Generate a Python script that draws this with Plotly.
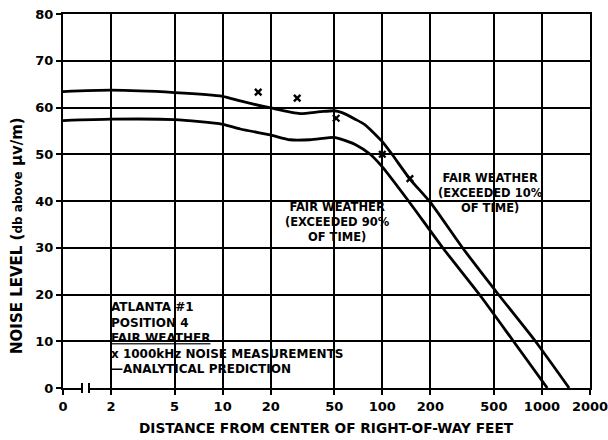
import math
import plotly.graph_objects as go

# ---------------- data ----------------
x_tick_vals = [1, 2, 5, 10, 20, 50, 100, 200, 500, 1000, 2000]
x_tick_text = ["0", "2", "5", "10", "20", "50", "100", "200", "500", "1000", "2000"]
y_tick_vals = [0, 10, 20, 30, 40, 50, 60, 70, 80]

# Fair weather, exceeded 10% of time (upper prediction)
dist_upper = [1, 2, 5, 10, 12.9, 20, 30.5, 40.8, 50, 56, 67.6, 78, 100, 115, 149, 200, 318, 534, 910, 1480]
noise_upper = [63.4, 63.7, 63.2, 62.4, 61.4, 59.9, 58.7, 59.1, 59.3, 58.9, 57.5, 56.3, 52.7, 50.0, 44.7, 39.7, 30.0, 20.0, 10.0, 0.0]

# Fair weather, exceeded 90% of time (lower prediction)
dist_lower = [1, 2, 5, 10, 12.9, 20, 26.4, 35.3, 50, 54.4, 67.6, 84, 100, 146, 239, 406, 663, 1080]
noise_lower = [57.2, 57.5, 57.4, 56.4, 55.4, 54.1, 53.1, 53.1, 53.6, 53.3, 52.1, 50.0, 47.3, 40.0, 30.0, 20.0, 10.0, 0.0]

# 1000 kHz noise measurements
dist_meas = [16.7, 29.3, 51.4, 100, 149]
noise_meas = [63.3, 62.0, 57.7, 50.0, 44.8]

# ---------------- layout helpers ----------------
W, H = 608, 440
PL, PR, PT, PB = 63, 590, 14, 388   # plot area in window pixels


def pxx(xp):
    return (xp - PL) / (PR - PL)


def pxy(yp):
    return (PB - yp) / (PB - PT)


TICKFONT = dict(family="DejaVu Sans", size=13, color="black", weight="bold")
LBLFONT = dict(family="DejaVu Sans", size=11.5, color="black", weight="bold")
LEGFONT = dict(family="DejaVu Sans", size=12, color="black", weight="bold")

fig = go.Figure()

fig.add_trace(go.Scatter(
    x=dist_upper, y=noise_upper, mode="lines",
    line=dict(color="black", width=2.8, shape="spline", smoothing=0.6),
    showlegend=False, hoverinfo="skip"))
fig.add_trace(go.Scatter(
    x=dist_lower, y=noise_lower, mode="lines",
    line=dict(color="black", width=2.8, shape="spline", smoothing=0.6),
    showlegend=False, hoverinfo="skip"))
fig.add_trace(go.Scatter(
    x=dist_meas, y=noise_meas, mode="markers",
    marker=dict(symbol="x-thin", size=6.5, line=dict(color="black", width=2.4), color="black"),
    showlegend=False))

annotations = []


def add_block(text, xp, yp, font, xanchor="center", align="center"):
    annotations.append(dict(
        text=text, xref="paper", yref="paper", x=pxx(xp), y=pxy(yp),
        xanchor=xanchor, yanchor="middle", align=align, showarrow=False, font=font))


add_block("FAIR WEATHER<br>(EXCEEDED 10%<br>OF TIME)", 490, 193, LBLFONT)
add_block("FAIR WEATHER<br>(EXCEEDED 90%<br>OF TIME)", 337, 222, LBLFONT)
add_block("ATLANTA #1<br>POSITION 4<br><u>FAIR WEATHER</u><br>"
          "x 1000kHz NOISE MEASUREMENTS<br>\u2014ANALYTICAL PREDICTION",
          109, 338, LEGFONT, xanchor="left", align="left")

# axis titles
annotations.append(dict(
    text="NOISE LEVEL (<span style='font-size:12px'>db above</span> \u03bcv/m)",
    xref="paper", yref="paper", x=pxx(17), y=pxy(236), textangle=-90,
    xanchor="center", yanchor="middle", showarrow=False,
    font=dict(family="DejaVu Sans", size=15, color="black", weight="bold")))
annotations.append(dict(
    text="DISTANCE FROM CENTER OF RIGHT-OF-WAY FEET",
    xref="paper", yref="paper", x=pxx(326), y=pxy(428),
    xanchor="center", yanchor="middle", showarrow=False,
    font=dict(family="DejaVu Sans", size=13.7, color="black", weight="bold")))


def mask(x0, x1, y0, y1):
    # white paper showing through the grid behind the hand-lettered labels
    return dict(type="rect", xref="paper", yref="paper",
                x0=pxx(x0), x1=pxx(x1), y0=pxy(y1), y1=pxy(y0),
                fillcolor="white", line=dict(width=0), layer="between")


shapes = [
    mask(434, 548, 166, 215),   # 10% label
    mask(278, 397, 199, 245),   # 90% label
    mask(105, 216, 298, 374),   # legend block (narrow lines)
    mask(105, 357, 342, 374),   # legend block (wide lines)
    # axis break marks near the origin
    dict(type="rect", xref="paper", yref="paper", x0=pxx(82.5), x1=pxx(88.5),
         y0=pxy(392), y1=pxy(384), fillcolor="white", line=dict(width=0), layer="above"),
    dict(type="line", xref="paper", yref="paper", x0=pxx(82), x1=pxx(82),
         y0=pxy(393), y1=pxy(383), line=dict(color="black", width=2), layer="above"),
    dict(type="line", xref="paper", yref="paper", x0=pxx(89), x1=pxx(89),
         y0=pxy(393), y1=pxy(383), line=dict(color="black", width=2), layer="above"),
]

axis_common = dict(
    showgrid=True, gridcolor="black", gridwidth=1.6,
    showline=True, linecolor="black", linewidth=2, mirror=True,
    ticks="outside", ticklen=5, tickcolor="black", tickwidth=2,
    tickfont=TICKFONT, zeroline=False, ticklabeloverflow="allow",
    automargin=False)

fig.update_layout(
    template="none",
    width=W, height=H,
    margin=dict(l=PL, r=W - PR, t=PT, b=H - PB, autoexpand=False),
    paper_bgcolor="white", plot_bgcolor="white",
    annotations=annotations, shapes=shapes,
    xaxis=dict(type="log", range=[0, math.log10(2000)],
               tickmode="array", tickvals=x_tick_vals, ticktext=x_tick_text,
               **axis_common),
    yaxis=dict(range=[0, 80], tickmode="array", tickvals=y_tick_vals,
               **axis_common),
)

# let the 608x440 figure fill the window exactly (no default page margin)
fig.write_html("out.html", config={"displayModeBar": False},
               post_script="document.body.style.margin='0';")
